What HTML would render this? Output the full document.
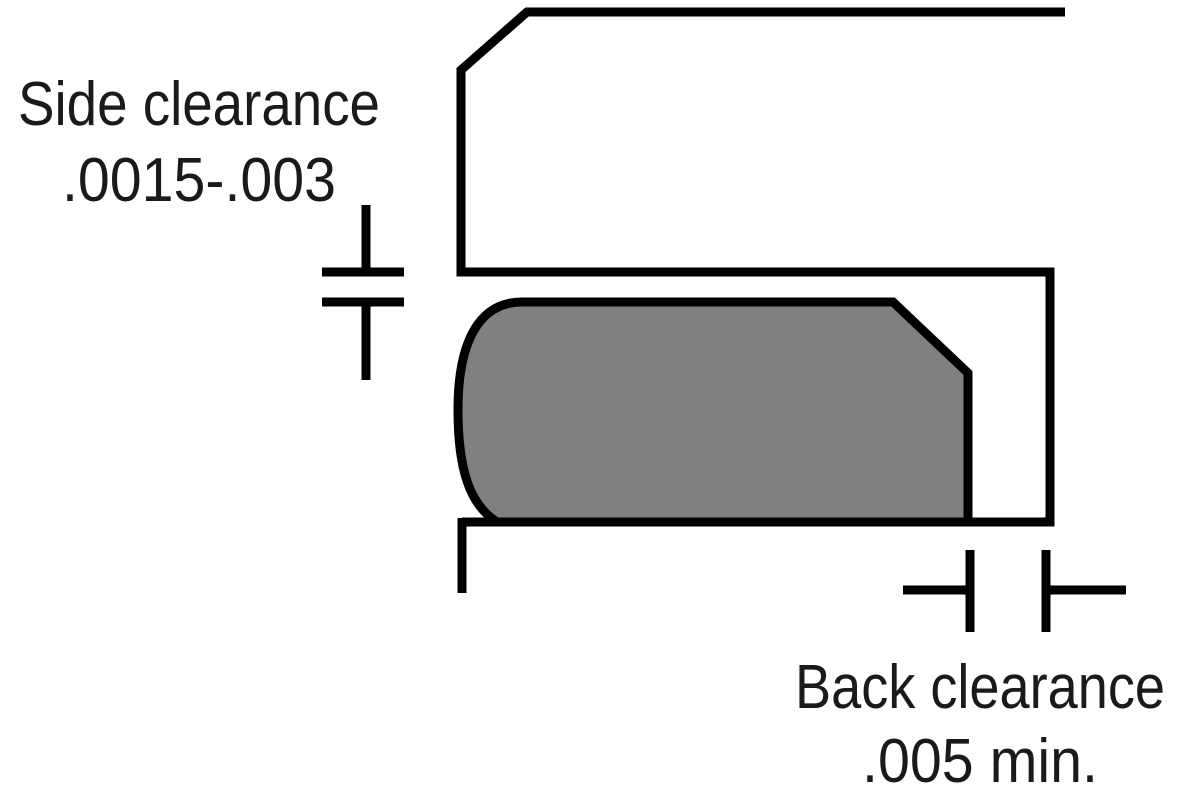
<!DOCTYPE html>
<html><head><style>html,body{margin:0;padding:0;background:#fff;}svg{display:block}</style></head>
<body>
<svg width="1200" height="800" viewBox="0 0 1200 800" xmlns="http://www.w3.org/2000/svg">
<g fill="none" stroke="#000" stroke-width="9">
<polyline points="1065,12 527,12 461,70 461,272 1050,272 1050,522 462,522"/>
<line x1="462" y1="518" x2="462" y2="593"/>
</g>
<path d="M522,302 L893,302 L968,373 L968,522 L497,522 C470,505 458,470 458,410 C458,340 480,302 522,302 Z" fill="#808080" stroke="#000" stroke-width="9" stroke-linejoin="miter"/>
<g stroke="#000" stroke-width="9" fill="none">
<line x1="366" y1="205" x2="366" y2="272"/>
<line x1="322" y1="272" x2="404" y2="272"/>
<line x1="322" y1="302" x2="404" y2="302"/>
<line x1="366" y1="302" x2="366" y2="380"/>
<line x1="903" y1="590" x2="970" y2="590"/>
<line x1="970" y1="550" x2="970" y2="632"/>
<line x1="1046" y1="550" x2="1046" y2="632"/>
<line x1="1046" y1="590" x2="1126" y2="590"/>
</g>
<g font-family="Liberation Sans, sans-serif" font-size="62" fill="#1a1a1a">
<text x="18" y="125" textLength="362" lengthAdjust="spacingAndGlyphs">Side clearance</text>
<text x="62" y="201" textLength="274" lengthAdjust="spacingAndGlyphs">.0015-.003</text>
<text x="795" y="708" textLength="370" lengthAdjust="spacingAndGlyphs">Back clearance</text>
<text x="862" y="782" textLength="236" lengthAdjust="spacingAndGlyphs">.005 min.</text>
</g>
</svg>
</body></html>
